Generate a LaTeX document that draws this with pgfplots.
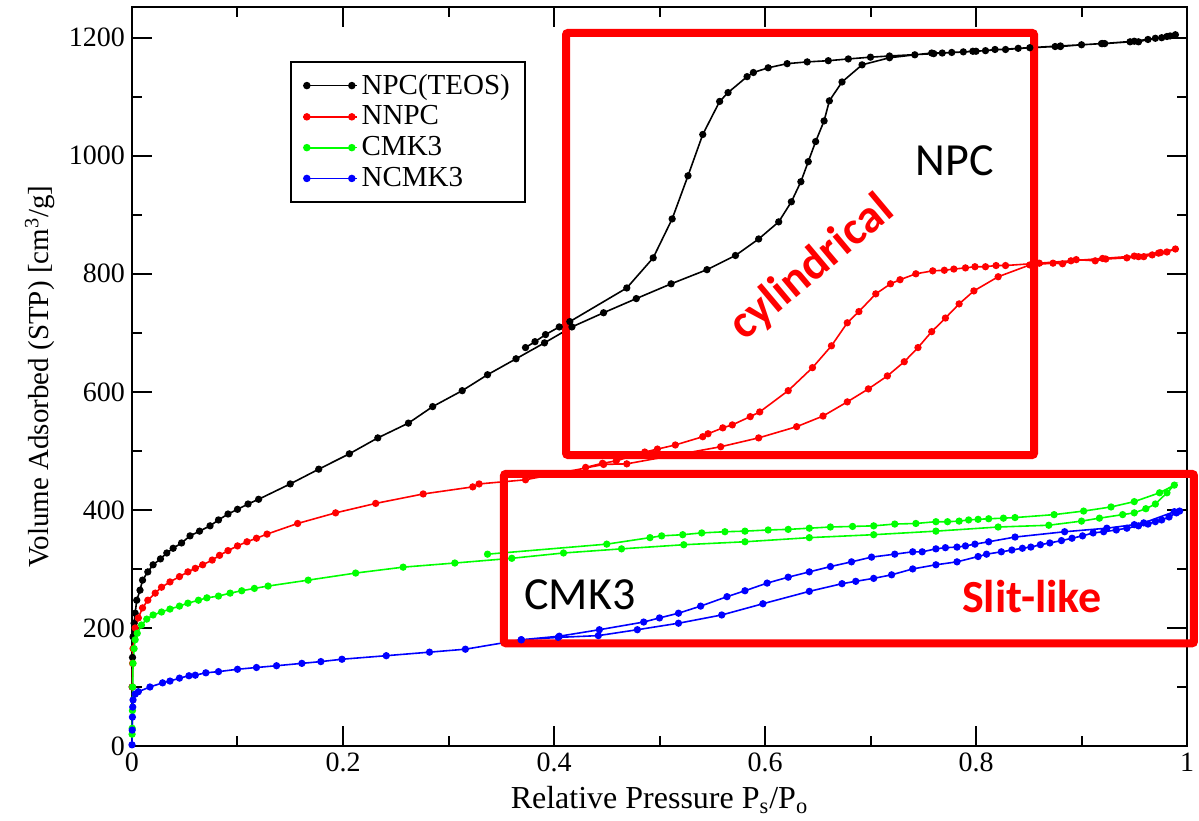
\documentclass[border=0pt]{standalone}
\usepackage{fontspec}
\setmainfont{Liberation Serif}
\newfontfamily\calibri{Carlito}
\usepackage{pgfplots}
\pgfplotsset{compat=1.18}
\begin{document}
\begin{tikzpicture}
\begin{axis}[
 name=ax, at={(0,0)}, anchor=south west,
 scale only axis, width=527.5pt, height=369.5pt,
 xmin=0, xmax=1, ymin=0, ymax=1252,
 xtick={0,0.2,0.4,0.6,0.8,1}, ytick={0,200,400,600,800,1000,1200},
 minor x tick num=1, minor y tick num=1,
 tick align=inside, major tick length=10pt, minor tick length=5pt,
 axis line style={line width=1pt},
 tick style={black, line width=1pt},
 tick label style={font=\fontsize{14}{16}\selectfont},
 /pgf/number format/assume math mode=true,
 /pgf/number format/1000 sep={},
 xlabel={Relative Pressure P\textsubscript{s}/P\textsubscript{o}},
 ylabel={Volume Adsorbed (STP) [cm\textsuperscript{3}/g]},
 xlabel style={font=\fontsize{16}{18}\selectfont},
 ylabel style={font=\fontsize{14.5}{16}\selectfont},
 clip=false,
 legend cell align=left,
 legend style={at={(rel axis cs:0.1498,0.9269)}, anchor=north west, draw=black, line width=1pt,
   font=\fontsize{14.5}{15}\selectfont, row sep=0.3pt, inner xsep=5.5pt, inner ysep=4pt},
 legend image code/.code={\draw[#1,line width=0.9pt,mark repeat=1,mark phase=1] plot coordinates {(2pt,0pt) (24.5pt,0pt)};
   \path (0pt,0pt) -- (27pt,0pt);},
 every axis plot/.append style={line width=0.8pt, mark=*, mark size=1.4pt, mark options={solid}},
]
\addplot[black] table {
0.0002 100
0.0005 150
0.001 185
0.002 208
0.003 225
0.0045 247
0.0076 264
0.010 281
0.015 295
0.020 307
0.027 317
0.033 327
0.039 335
0.047 344
0.055 356
0.064 364
0.074 373
0.082 383
0.091 393
0.100 401
0.110 410
0.120 418
0.150 444
0.177 469
0.206 495
0.233 522
0.262 547
0.285 575
0.313 602
0.337 629
0.364 656
0.391 683
0.417 710
0.447 734
0.478 758
0.511 783
0.545 807
0.572 831
0.594 859
0.613 888
0.625 922
0.634 956
0.641 990
0.648 1024
0.656 1059
0.661 1093
0.673 1125
0.692 1154
0.718 1166
0.742 1171
0.758 1174
0.768 1174
0.777 1175
0.788 1176
0.797 1177
0.809 1178
0.818 1180
0.828 1180
0.851 1183
0.875 1185
0.880 1185
0.900 1188
0.919 1190
0.922 1190
0.946 1193
0.954 1193
0.963 1197
0.976 1200
0.981 1202
0.989 1205
0.984 1203
0.970 1199
0.950 1194
0.920 1190
0.880 1186
0.840 1182
0.800 1177
0.760 1173
0.718 1169
0.700 1167
0.679 1164
0.660 1161
0.640 1159
0.621 1156
0.603 1149
0.589 1141
0.583 1134
0.565 1107
0.557 1092
0.541 1036
0.527 966
0.512 893
0.494 827
0.469 776
0.415 719
0.405 710
0.392 697
0.382 685
0.373 675
};
\addlegendentry{NPC(TEOS)}
\addplot[red] table {
0.0003 100
0.0006 140
0.001 165
0.003 200
0.006 217
0.010 234
0.015 247
0.022 259
0.028 269
0.036 278
0.045 287
0.053 295
0.060 301
0.067 307
0.076 315
0.083 323
0.091 331
0.100 339
0.109 346
0.118 352
0.128 359
0.157 377
0.193 395
0.231 411
0.276 427
0.323 439
0.329 444
0.373 451
0.447 477
0.469 478
0.558 507
0.594 522
0.630 541
0.655 559
0.678 583
0.698 605
0.716 627
0.732 651
0.745 675
0.758 702
0.771 725
0.784 749
0.798 771
0.821 795
0.851 815
0.873 818
0.882 817
0.895 824
0.913 822
0.923 825
0.943 827
0.954 829
0.959 829
0.967 832
0.973 835
0.981 837
0.989 842
0.975 836
0.950 830
0.920 826
0.890 822
0.860 818
0.828 814
0.819 814
0.809 812
0.799 812
0.790 810
0.779 808
0.770 806
0.759 805
0.743 800
0.728 790
0.719 783
0.705 766
0.689 736
0.678 717
0.663 678
0.645 641
0.622 602
0.595 566
0.586 558
0.569 544
0.560 539
0.546 529
0.541 524
0.515 510
0.498 503
0.486 498
0.459 483
0.446 479
0.430 472
};
\addlegendentry{NNPC}
\addplot[green] table {
0.0001 20
0.0002 30
0.0004 60
0.0006 100
0.001 140
0.002 165
0.003 180
0.005 191
0.009 205
0.014 215
0.020 222
0.028 227
0.036 232
0.045 237
0.053 242
0.063 247
0.071 251
0.082 254
0.093 259
0.104 263
0.116 267
0.129 271
0.167 281
0.212 293
0.257 303
0.306 310
0.360 318
0.409 327
0.464 334
0.523 341
0.581 346
0.642 353
0.703 358
0.762 364
0.821 371
0.869 374
0.900 381
0.917 386
0.939 392
0.950 395
0.961 402
0.970 410
0.981 429
0.988 442
0.974 429
0.950 414
0.928 405
0.902 398
0.874 392
0.837 387
0.826 386
0.812 385
0.802 384
0.793 383
0.784 381
0.773 380
0.762 380
0.743 377
0.723 376
0.703 373
0.683 372
0.662 371
0.642 369
0.622 367
0.603 366
0.581 364
0.562 363
0.540 361
0.522 358
0.502 356
0.491 353
0.450 342
0.337 325
};
\addlegendentry{CMK3}
\addplot[blue] table {
0 2
0.0002 27
0.0004 49
0.0007 66
0.001 78
0.003 88
0.006 92
0.017 100
0.029 107
0.036 110
0.045 115
0.054 119
0.060 120
0.070 124
0.082 126
0.100 130
0.118 133
0.137 136
0.161 140
0.179 143
0.199 147
0.241 153
0.282 159
0.316 164
0.369 180
0.404 184
0.442 187
0.479 197
0.518 208
0.559 222
0.598 241
0.642 262
0.673 275
0.686 279
0.703 284
0.720 290
0.740 300
0.762 307
0.782 312
0.802 321
0.810 325
0.824 329
0.834 332
0.844 335
0.852 337
0.861 341
0.870 344
0.881 348
0.891 352
0.901 356
0.911 361
0.921 363
0.933 366
0.943 369
0.954 373
0.963 376
0.970 380
0.976 383
0.983 388
0.990 395
0.993 398
0.988 397
0.959 378
0.950 375
0.924 369
0.884 363
0.837 354
0.812 346
0.799 342
0.790 339
0.782 337
0.771 336
0.762 334
0.749 329
0.740 329
0.723 325
0.701 320
0.682 312
0.662 304
0.642 295
0.622 286
0.602 276
0.581 263
0.564 253
0.539 237
0.518 225
0.500 217
0.485 210
0.443 197
0.405 186
0.369 180
};
\addlegendentry{NCMK3}
\draw[red, line width=4pt, rounded corners=1pt] (axis cs:0.4114,493) rectangle (axis cs:0.855,1208);
\draw[red, line width=4pt, rounded corners=1pt] (axis cs:0.3526,174) rectangle (axis cs:1.0066,461);
\node[font=\calibri\fontsize{23}{26}\selectfont] at (axis cs:0.780,991) {NPC};
\node[font=\calibri\fontsize{23}{26}\selectfont] at (axis cs:0.4246,257) {CMK3};
\node[text=red, font=\calibri\bfseries\fontsize{23}{26}\selectfont] at (axis cs:0.853,253) {Slit-like};
\node[text=red, font=\calibri\bfseries\fontsize{23.5}{26}\selectfont, rotate=40] at (axis cs:0.6445,810) {cylindrical};
\end{axis}
\pgfresetboundingbox
\useasboundingbox (-66pt,-37pt) rectangle (533.5pt,373pt);
\end{tikzpicture}
\end{document}
